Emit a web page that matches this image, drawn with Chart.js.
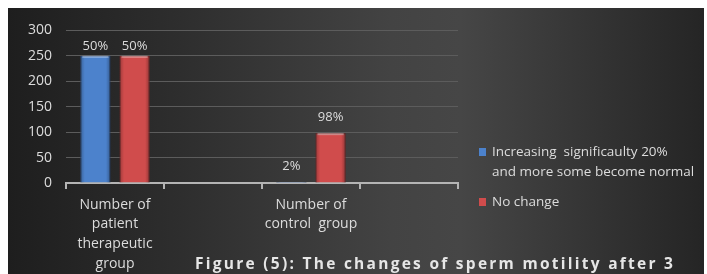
<!DOCTYPE html>
<html>
<head>
<meta charset="utf-8">
<script src="https://cdn.jsdelivr.net/npm/chart.js@4"></script>
<style>
  html, body { margin: 0; padding: 0; background: #fff; }
  #wrap {
    position: absolute; left: 8px; top: 8px; width: 696px; height: 266px;
    background: linear-gradient(90deg, #1e1e1e 0%, #2e2e2e 25%, #434343 55%, #464646 65%, #333 85%, #252525 100%);
  }
  canvas { display: block; }
</style>
</head>
<body>
<div id="wrap"><canvas id="chart" width="696" height="266"></canvas></div>
<script>
// Data
const categories = [
  ['Number of', 'patient', 'therapeutic', 'group'],
  '',
  ['Number of', 'control  group'],
  ''
];
const increasingValues = [250, null, 2, null];
const noChangeValues = [250, null, 98, null];
const increasingLabels = ['50%', '', '2%', ''];
const noChangeLabels = ['50%', '', '98%', ''];
const legendItems = [
  { lines: ['Increasing  significaulty 20%', 'and more some become normal'], color: '#4c82cc' },
  { lines: ['No change'], color: '#d04c4c' }
];
const yTicks = [0, 50, 100, 150, 200, 250, 300];
const titleText = 'Figure (5): The changes of sperm motility after 3';

const textColor = '#dcdcdc';
const fontFamily = '"Open Sans", Lato, sans-serif';

document.addEventListener('DOMContentLoaded', function() {
  // shading, value labels, legend and caption
  const decorPlugin = {
    id: 'decor',
    afterDatasetsDraw(chart) {
      const ctx = chart.ctx;
      chart.data.datasets.forEach((ds, di) => {
        const meta = chart.getDatasetMeta(di);
        meta.data.forEach((bar, i) => {
          if (ds.data[i] == null) return;
          const left = bar.x - bar.width / 2;
          const top = Math.min(bar.y, bar.base);
          const h = Math.abs(bar.base - bar.y);
          // edge shading
          const g = ctx.createLinearGradient(left, 0, left + bar.width, 0);
          g.addColorStop(0, 'rgba(0,0,0,0.25)');
          g.addColorStop(0.15, 'rgba(0,0,0,0)');
          g.addColorStop(0.85, 'rgba(0,0,0,0)');
          g.addColorStop(1, 'rgba(0,0,0,0.3)');
          ctx.save();
          ctx.fillStyle = g;
          ctx.fillRect(left, top, bar.width, h);
          if (h > 4) {
            ctx.fillStyle = 'rgba(255,255,255,0.35)';
            ctx.fillRect(left + 2, top, bar.width - 4, 2);
          }
          ctx.restore();
          // value label
          const labels = di === 0 ? increasingLabels : noChangeLabels;
          ctx.save();
          ctx.fillStyle = textColor;
          ctx.font = '13px ' + fontFamily;
          ctx.textAlign = 'center';
          ctx.textBaseline = 'middle';
          const off = h > 120 ? 10 : 16;
          ctx.fillText(labels[i], bar.x, top - off);
          ctx.restore();
        });
      });

      // legend
      ctx.save();
      ctx.font = '13.5px ' + fontFamily;
      ctx.textBaseline = 'middle';
      let y = 144;
      legendItems.forEach(item => {
        ctx.fillStyle = item.color;
        ctx.fillRect(471, y - 4, 7, 8);
        ctx.fillStyle = textColor;
        item.lines.forEach((ln, k) => {
          ctx.fillText(ln, 484, y + k * 20);
        });
        y += item.lines.length * 20 + 10;
      });
      ctx.restore();

      // caption (runs to the right edge, letter-spaced)
      ctx.save();
      ctx.font = 'bold 15.5px ' + fontFamily;
      ctx.fillStyle = '#e6e6e6';
      ctx.textBaseline = 'alphabetic';
      const target = 478;
      const w = ctx.measureText(titleText).width;
      ctx.letterSpacing = Math.max(0, (target - w) / (titleText.length - 1)).toFixed(2) + 'px';
      ctx.fillText(titleText, 187, 261);
      ctx.restore();
    }
  };

  const barCtx = document.getElementById('chart').getContext('2d');
  new Chart(barCtx, {
    type: 'bar',
    data: {
      labels: categories,
      datasets: [{
        label: 'Increasing significaulty 20% and more some become normal',
        data: increasingValues,
        backgroundColor: '#4c82cc',
        borderColor: '#3a64a6',
        borderWidth: 1,
        categoryPercentage: 0.8,
        barPercentage: 0.77
      }, {
        label: 'No change',
        data: noChangeValues,
        backgroundColor: '#d04c4c',
        borderColor: '#a53636',
        borderWidth: 1,
        categoryPercentage: 0.8,
        barPercentage: 0.77
      }]
    },
    options: {
      responsive: false,
      animation: false,
      layout: { padding: { left: 0, right: 246, top: 9, bottom: 0 } },
      plugins: {
        legend: { display: false },
        tooltip: { enabled: false }
      },
      scales: {
        x: {
          border: { color: '#b4b4b4', width: 2 },
          grid: { drawOnChartArea: false, color: '#b4b4b4', tickLength: 6, lineWidth: 2 },
          ticks: {
            color: textColor,
            padding: 6,
            maxRotation: 0,
            autoSkip: false,
            font: { family: fontFamily, size: 14, lineHeight: 1.4 }
          },
          afterFit(scale) { scale.height = 91; }
        },
        y: {
          min: 0,
          max: 300,
          border: { display: false },
          grid: { color: '#5c5c5c', drawTicks: false },
          afterBuildTicks(scale) { scale.ticks = yTicks.map(v => ({ value: v })); },
          ticks: {
            color: textColor,
            padding: 14,
            font: { family: fontFamily, size: 14 }
          },
          afterFit(scale) { scale.width = 58; }
        }
      }
    },
    plugins: [decorPlugin]
  });
});
</script>
</body>
</html>
